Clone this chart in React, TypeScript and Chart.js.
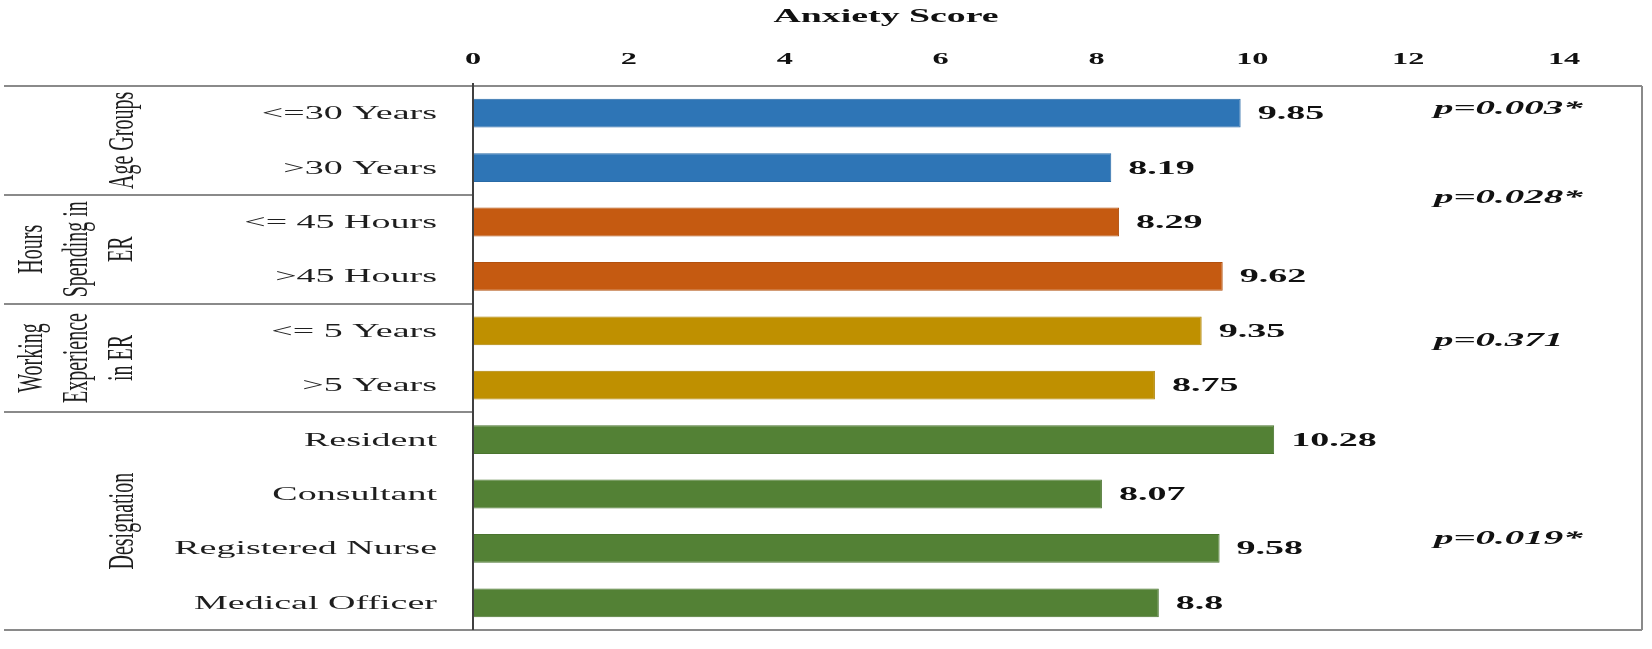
import React, { useEffect, useRef } from "react";
import { Chart, registerables } from "chart.js";

Chart.register(...registerables);

// ---- data ----
const categories = [
  "<=30 Years",
  ">30 Years",
  "<= 45 Hours",
  ">45 Hours",
  "<= 5 Years",
  ">5 Years",
  "Resident",
  "Consultant",
  "Registered Nurse",
  "Medical Officer",
];
const scores = [9.85, 8.19, 8.29, 9.62, 9.35, 8.75, 10.28, 8.07, 9.58, 8.8];
const valueLabels = ["9.85", "8.19", "8.29", "9.62", "9.35", "8.75", "10.28", "8.07", "9.58", "8.8"];
const groupSizes = [2, 2, 2, 4];
const groupTitles = [
  ["Age Groups"],
  ["Hours", "Spending in", "ER"],
  ["Working", "Experience", "in ER"],
  ["Designation"],
];
const groupColors = ["#2E75B6", "#C55A11", "#BF9000", "#538135"];
const groupBorders = ["#286AA6", "#B2500E", "#AD8200", "#4A742F"];
const pValueLabels = ["p=0.003*", "p=0.028*", "p=0.371", "p=0.019*"];
const axisTitle = "Anxiety Score";
const xMin = 0;
const xMax = 15;
const xStep = 2;

// ---- layout / style constants ----
const SERIF = '"Liberation Serif", "Times New Roman", serif';
const pValueRows = [0, 1.64, 4.26, 7.9];

const groupIndexOf = (i: number) => {
  let acc = 0;
  for (let g = 0; g < groupSizes.length; g++) {
    acc += groupSizes[g];
    if (i < acc) return g;
  }
  return groupSizes.length - 1;
};

function stretchText(
  ctx: CanvasRenderingContext2D,
  text: string,
  x: number,
  y: number,
  font: string,
  sx: number,
  align: CanvasTextAlign,
  color: string
) {
  ctx.save();
  ctx.translate(x, y);
  ctx.scale(sx, 1);
  ctx.font = font;
  ctx.fillStyle = color;
  ctx.textAlign = align;
  ctx.textBaseline = "middle";
  ctx.fillText(text, 0, 0);
  ctx.restore();
}

const decorPlugin = {
  id: "decor",
  afterDraw(chart: any) {
    const ctx: CanvasRenderingContext2D = chart.ctx;
    const a = chart.chartArea;
    const xs = chart.scales.x;
    const ys = chart.scales.y;
    const rowH = ys.getPixelForValue(1) - ys.getPixelForValue(0);
    const rowY = (r: number) => ys.getPixelForValue(0) + r * rowH;
    const leftEdge = 4;

    // frame lines
    ctx.save();
    ctx.strokeStyle = "#8a8a8a";
    ctx.lineWidth = 2;
    ctx.beginPath();
    ctx.moveTo(leftEdge, a.top);
    ctx.lineTo(a.right, a.top);
    ctx.moveTo(leftEdge, a.bottom);
    ctx.lineTo(a.right, a.bottom);
    ctx.moveTo(a.right, a.top);
    ctx.lineTo(a.right, a.bottom);
    // group separators
    let acc = 0;
    for (let g = 0; g < groupSizes.length - 1; g++) {
      acc += groupSizes[g];
      const yy = Math.round(rowY(acc - 0.5));
      ctx.moveTo(leftEdge, yy);
      ctx.lineTo(a.left, yy);
    }
    ctx.stroke();
    // value axis line
    ctx.strokeStyle = "#404040";
    ctx.lineWidth = 2;
    ctx.beginPath();
    ctx.moveTo(a.left, a.top - 3);
    ctx.lineTo(a.left, a.bottom);
    ctx.stroke();
    ctx.restore();

    // x tick labels (top)
    xs.ticks.forEach((t: any) => {
      stretchText(ctx, String(t.value), xs.getPixelForValue(t.value), 60, "bold 17px " + SERIF, 1.9, "center", "#111");
    });
    // axis title
    stretchText(ctx, axisTitle, xs.getPixelForValue(5.3), 17, "bold 18px " + SERIF, 2.1, "center", "#111");

    // category labels
    categories.forEach((c, i) => {
      stretchText(ctx, c, a.left - 36, ys.getPixelForValue(i) + 1, "19px " + SERIF, 2.0, "right", "#1e1e1e");
    });

    // group titles (rotated)
    let start = 0;
    groupTitles.forEach((lines, g) => {
      const n = groupSizes[g];
      const cy = rowY(start + (n - 1) / 2);
      start += n;
      const sx = 1.8;
      const lh = 45 / sx;
      const cx = lines.length > 1 ? 78 : 124;
      ctx.save();
      ctx.translate(cx, cy);
      ctx.scale(sx, 1);
      ctx.rotate(-Math.PI / 2);
      ctx.font = "20px " + SERIF;
      ctx.fillStyle = "#1e1e1e";
      ctx.textAlign = "center";
      ctx.textBaseline = "middle";
      lines.forEach((ln, k) => {
        ctx.fillText(ln, 0, (k - (lines.length - 1) / 2) * lh);
      });
      ctx.restore();
    });

    // value labels
    const meta = chart.getDatasetMeta(0);
    meta.data.forEach((bar: any, i: number) => {
      stretchText(ctx, valueLabels[i], bar.x + 17, bar.y + 1, "bold 19px " + SERIF, 2.0, "left", "#111");
    });

    // p-values
    pValueLabels.forEach((p, k) => {
      stretchText(ctx, p, xs.getPixelForValue(12.33), rowY(pValueRows[k]) - 4, "italic bold 19px " + SERIF, 2.05, "left", "#111");
    });
  },
};

export default function App() {
  const ref = useRef<HTMLCanvasElement | null>(null);

  useEffect(() => {
    if (!ref.current) return;
    const chart = new Chart(ref.current, {
      type: "bar",
      data: {
        labels: categories,
        datasets: [
          {
            data: scores,
            backgroundColor: categories.map((_, i) => groupColors[groupIndexOf(i)]),
            borderColor: categories.map((_, i) => groupBorders[groupIndexOf(i)]),
            borderWidth: 1,
            barPercentage: 0.53,
            categoryPercentage: 1,
          },
        ],
      },
      options: {
        indexAxis: "y",
        responsive: false,
        animation: false,
        layout: { padding: { left: 473, top: 86, right: 10, bottom: 19 } },
        plugins: {
          legend: { display: false },
          tooltip: { enabled: false },
          title: { display: false },
        },
        scales: {
          x: {
            type: "linear",
            display: false,
            min: xMin,
            max: xMax,
            ticks: { stepSize: xStep, includeBounds: false },
          },
          y: {
            type: "category",
            display: false,
          },
        },
      },
      plugins: [decorPlugin],
    });
    return () => chart.destroy();
  }, []);

  return (
    <div style={{ position: "absolute", left: 0, top: 0, width: 1652, height: 649, background: "#fff" }}>
      <canvas ref={ref} width={1652} height={649} style={{ width: 1652, height: 649, display: "block" }} />
    </div>
  );
}
